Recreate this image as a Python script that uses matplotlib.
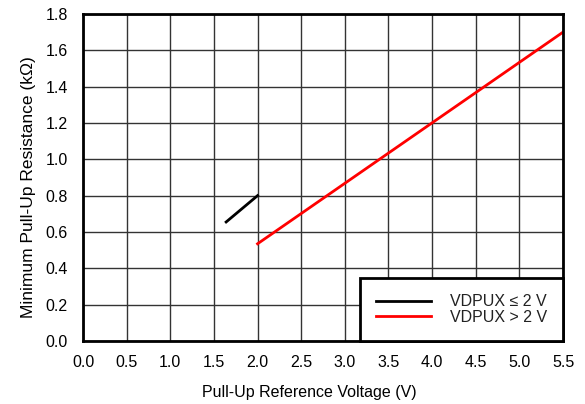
import matplotlib.pyplot as plt

plt.rcParams['font.family'] = ['Liberation Sans', 'DejaVu Sans']

# low range line (VDPUX <= 2 V)
x_low = [1.64, 2.0]
y_low = [0.655, 0.80]
# high range line (VDPUX > 2 V)
x_high = [2.0, 5.5]
y_high = [0.535, 1.70]

x_ticks = [0.0, 0.5, 1.0, 1.5, 2.0, 2.5, 3.0, 3.5, 4.0, 4.5, 5.0, 5.5]
y_ticks = [0.0, 0.2, 0.4, 0.6, 0.8, 1.0, 1.2, 1.4, 1.6, 1.8]

fig = plt.figure(figsize=(5.85, 4.04), dpi=100)
ax = fig.add_axes([0.1419, 0.156, 0.8205, 0.8094])

ax.plot(x_low, y_low, color='black', lw=2, label='VDPUX \u2264 2 V')
ax.plot(x_high, y_high, color='red', lw=2, label='VDPUX > 2 V')

ax.set_xlim(0, 5.5)
ax.set_ylim(0, 1.8)
ax.set_xticks(x_ticks)
ax.set_yticks(y_ticks)
ax.set_xticklabels([f'{v:.1f}' for v in x_ticks])
ax.set_yticklabels([f'{v:.1f}' for v in y_ticks])
ax.tick_params(labelsize=11.5, length=0)
ax.tick_params(axis='x', pad=10)
ax.tick_params(axis='y', pad=11)
ax.grid(True, color='#333333', lw=1)
ax.set_axisbelow(True)
for s in ax.spines.values():
    s.set_linewidth(2)
    s.set_color('black')

ax.set_xlabel('Pull-Up Reference Voltage (V)', fontsize=11.5, labelpad=11)
ax.set_ylabel('Minimum Pull-Up Resistance (k\u03a9)', fontsize=12.5, labelpad=7)
ax.xaxis.label.set_x(0.471)
ax.yaxis.label.set_y(0.472)

leg = ax.legend(loc='lower right', bbox_to_anchor=(1.0, 0.0), fontsize=11.5,
                frameon=True, fancybox=False, borderaxespad=0,
                handlelength=3.4, handletextpad=1.2, labelspacing=0.05,
                borderpad=1.0)
leg.get_frame().set_edgecolor('black')
leg.get_frame().set_linewidth(2)
leg.get_frame().set_alpha(1)
for t in leg.get_texts():
    t.set_color('#222222')

fig.savefig('out.png', dpi=100)
